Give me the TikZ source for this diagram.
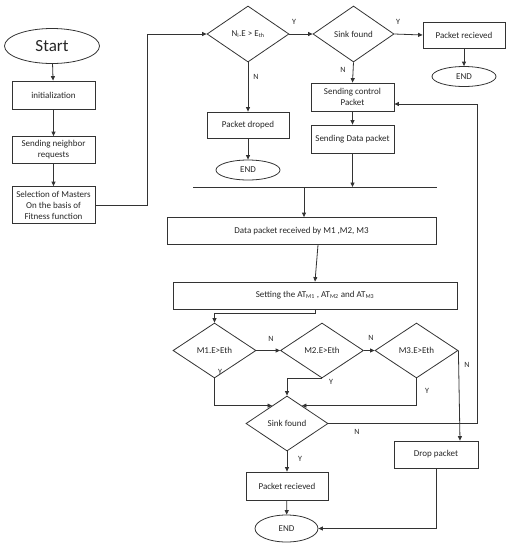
\documentclass[tikz,border=0pt]{standalone}
\usepackage{fontspec}
\setmainfont{Carlito}
\usetikzlibrary{shapes.geometric,arrows.meta,calc}
\begin{document}
\begin{tikzpicture}[x=1pt,y=-1pt,
  every node/.style={font=\fontsize{9}{11}\selectfont, text=black!85},
  ln/.style={draw=black!80, line width=0.8pt},
  arr/.style={ln, -{Triangle[length=4.5pt,width=4pt]}},
  box/.style={ln, rectangle, align=center, inner sep=1pt},
  dia/.style={ln, diamond, inner sep=0pt, align=center},
  ell/.style={ln, ellipse, inner sep=0pt},
  lbl/.style={font=\fontsize{8}{9}\selectfont, inner sep=0pt}]
\useasboundingbox (0,0) rectangle (512,550);
% left column
\node[ell, minimum width=95, minimum height=35, font=\fontsize{17}{20}\selectfont] (start) at (52,46) {Start};
\node[box, minimum width=83, minimum height=28] (init) at (53.5,95) {initialization};
\node[box, minimum width=83, minimum height=27] (neigh) at (53.5,150) {Sending neighbor\\requests};
\node[box, minimum width=83, minimum height=37] (sel) at (53.5,205) {Selection of Masters\\On the basis of\\Fitness function};
% top row
\node[dia, minimum width=82, minimum height=56] (d1) at (248,34) {N\textsubscript{i}.E > E\textsubscript{th}};
\node[box, minimum width=82, minimum height=26] (drop1) at (248,125) {Packet droped};
\node[ell, minimum width=64, minimum height=20] (end1) at (248,170) {END};
\node[dia, minimum width=81, minimum height=56] (d2) at (353.5,34) {Sink found};
\node[box, minimum width=82, minimum height=26] (recv1) at (464,35) {Packet recieved};
\node[ell, minimum width=64, minimum height=20] (end2) at (464,76.5) {END};
\node[box, minimum width=83, minimum height=28] (ctrl) at (352.5,97) {Sending control\\Packet};
\node[box, minimum width=83, minimum height=28] (data) at (352.5,139) {Sending Data packet};
% bar
\coordinate (barL) at (193,187);
\coordinate (barR) at (437,187);
\coordinate (barA) at (304,187);
\node[box, minimum width=269, minimum height=27] (dr) at (301.5,231) {Data packet received by M1 ,M2, M3};
\node[box, minimum width=284, minimum height=27] (set) at (315,295.5) {Setting the AT\textsubscript{M1} , AT\textsubscript{M2} and AT\textsubscript{M3}};
% masters
\node[dia, minimum width=83, minimum height=55] (m1) at (214.5,350.5) {M1.E>Eth};
\node[dia, minimum width=83, minimum height=55] (m2) at (322,350.5) {M2.E>Eth};
\node[dia, minimum width=83, minimum height=55] (m3) at (416.5,350.5) {M3.E>Eth};
\node[dia, minimum width=82, minimum height=55] (sf) at (287,423.5) {Sink found};
\node[box, minimum width=84, minimum height=27] (dp) at (436,454.5) {Drop packet};
\node[box, minimum width=82, minimum height=28] (rc2) at (287,486) {Packet recieved};
\node[ell, minimum width=63, minimum height=27] (end3) at (286.5,528.5) {END};
% connectors left
\draw[arr] (start) -- (init);
\draw[arr] (init) -- (neigh);
\draw[arr] (neigh) -- (sel);
\draw[arr] (sel.east) -- ++(52,0) |- (d1.west);
% top
\draw[arr] (d1.east) -- (d2.west);
\draw[arr] (d1.south) -- (drop1.north);
\draw[arr] (drop1) -- (end1);
\draw[arr] (d2.east) -- (recv1.west);
\draw[arr] (recv1) -- (end2);
\draw[arr] (d2.south) -- (ctrl.north);
\draw[arr] (ctrl) -- (data);
\draw[ln] (barL) -- (barR);
\draw[arr] (data.south) -- (data.south |- barL);
\draw[arr] (barA) -- (barA |- dr.north);
\draw[arr] ([xshift=16.5pt]dr.south) -- (set.north);
\draw[arr] (set.south) -- ++(0,4) -| (m1.north);
\draw[arr] (m1.east) -- (m2.west);
\draw[arr] (m2.east) -- (m3.west);
\draw[arr] (m1.south) |- ($(sf.north)!0.36!(sf.west)$);
\draw[arr] (m2.south) -| (sf.north);
\draw[arr] (m3.south) |- ($(sf.north)!0.36!(sf.east)$);
\draw[arr] (m3.east) -- ([xshift=24pt]dp.north);
\draw[arr] (sf.east) -- ++(149,0) |- ([yshift=-7pt]ctrl.east);
\draw[arr] (sf.south) -- (rc2.north);
\draw[arr] (rc2) -- (end3);
\draw[arr] (dp.south) |- (end3.east);
% labels
\node[lbl] (y1) at (294,22) {Y};
\node[lbl] (y2) at (398,22) {Y};
\node[lbl] (n1) at (256,77) {N};
\node[lbl] (n2) at (343,70) {N};
\node[lbl] (n3) at (271,339) {N};
\node[lbl] (n4) at (371,338) {N};
\node[lbl] (n5) at (467,365) {N};
\node[lbl] (y3) at (220,372) {Y};
\node[lbl] (y4) at (331,382) {Y};
\node[lbl] (y5) at (427,391) {Y};
\node[lbl] (n6) at (357,432) {N};
\node[lbl] (y6) at (300,459) {Y};
\end{tikzpicture}
\end{document}
